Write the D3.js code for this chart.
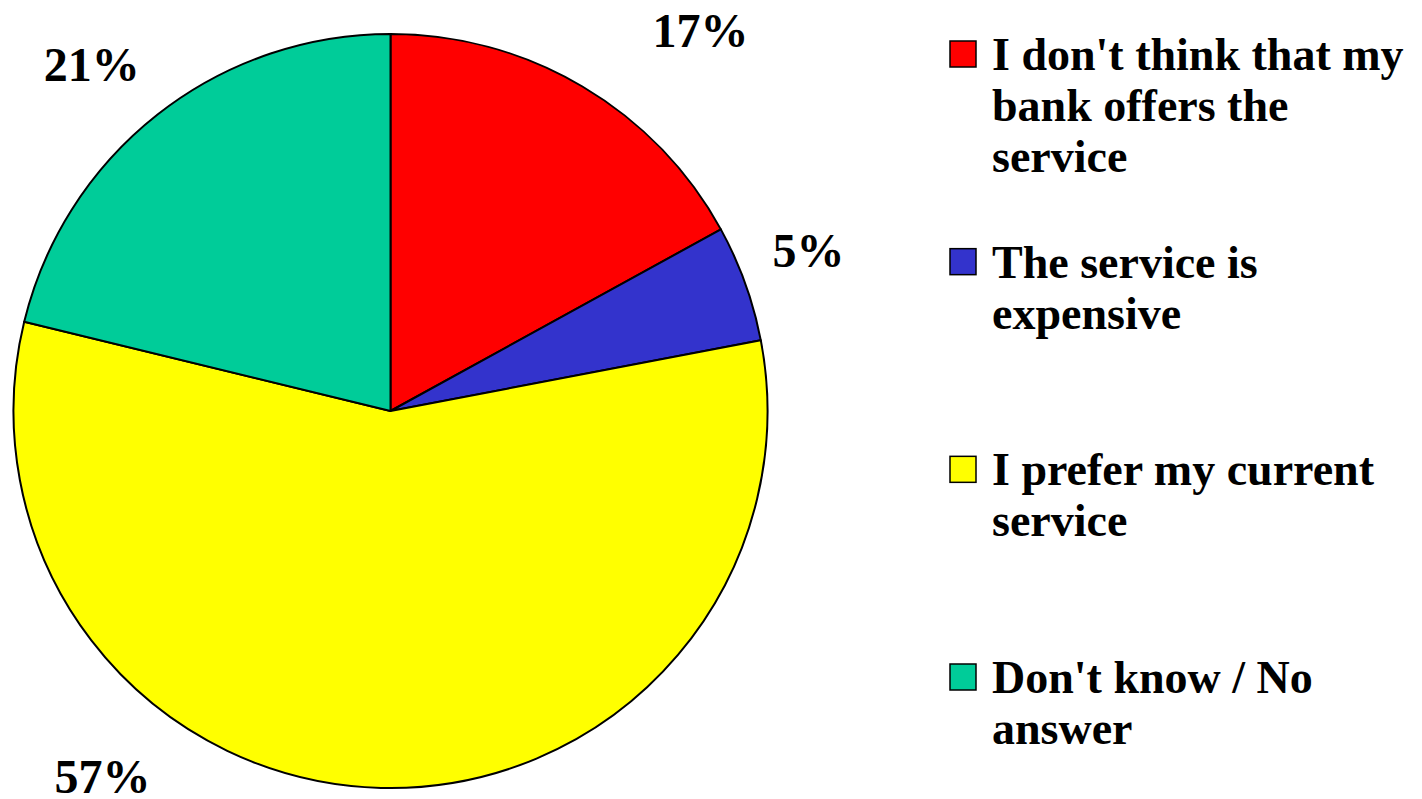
<!DOCTYPE html>
<html>
<head>
<meta charset="utf-8">
<script src="https://cdn.jsdelivr.net/npm/d3@7/dist/d3.min.js"></script>
<style>
  html, body { margin: 0; padding: 0; background: #ffffff; }
  svg { display: block; }
  text { font-family: "Liberation Serif", "Times New Roman", serif; font-weight: bold; fill: #000; }
</style>
</head>
<body>
<svg id="chart" width="1422" height="799"></svg>
<script>
// ---- data ----
const categories = [
  "I don't think that my bank offers the service",
  "The service is expensive",
  "I prefer my current service",
  "Don't know / No answer"
];
const values = [17, 5, 56.8, 21.2];
const legendLines = [
  ["I don't think that my", "bank offers the", "service"],
  ["The service is", "expensive"],
  ["I prefer my current", "service"],
  ["Don't know / No", "answer"]
];
const colors = ["#FF0000", "#3333CC", "#FFFF00", "#00CC99"];
// label nudges relative to the outer label arc (styling)
const labelNudge = [[86, -2], [4, -11], [-277, -74], [-27, 0]];

// ---- layout ----
const svg = d3.select("#chart");
const cx = 390.5, cy = 411, r = 377;

const pie = d3.pie().sort(null).value(d => d.value)
  .startAngle(0).endAngle(2 * Math.PI);
const data = categories.map((c, i) => ({ cat: c, value: values[i], i }));
const arcs = pie(data);

const arc = d3.arc().innerRadius(0).outerRadius(r);
const labelArc = d3.arc().innerRadius(440).outerRadius(440);
const color = d3.scaleOrdinal().domain(categories).range(colors);

const g = svg.append("g").attr("transform", `translate(${cx},${cy})`);
g.selectAll("path.slice").data(arcs).join("path")
  .attr("class", "slice")
  .attr("d", arc)
  .attr("fill", d => color(d.data.cat))
  .attr("stroke", "#000")
  .attr("stroke-width", 2)
  .attr("stroke-linejoin", "round");

const total = d3.sum(values);
const fmt = v => d3.format(".0f")(v / total * 100) + "%";
g.selectAll("text.lbl").data(arcs).join("text")
  .attr("class", "lbl")
  .attr("x", d => labelArc.centroid(d)[0] + labelNudge[d.data.i][0])
  .attr("y", d => labelArc.centroid(d)[1] + labelNudge[d.data.i][1])
  .attr("dy", "0.34em")
  .attr("text-anchor", "middle")
  .style("font-size", "48px")
  .text(d => fmt(d.data.value));

// ---- legend ----
const ly = d3.scalePoint().domain(categories).range([70, 693]);
const leg = svg.append("g");
const items = leg.selectAll("g.item").data(data).join("g")
  .attr("class", "item")
  .attr("transform", d => `translate(0,${ly(d.cat)})`);
items.append("rect")
  .attr("x", 950).attr("y", -29)
  .attr("width", 26).attr("height", 26)
  .attr("fill", d => color(d.cat))
  .attr("stroke", "#000").attr("stroke-width", 1.5);
items.append("text")
  .attr("x", 992).attr("y", 0)
  .style("font-size", "46px")
  .selectAll("tspan").data(d => legendLines[d.i]).join("tspan")
  .attr("x", 992)
  .attr("y", (d, k) => k * 51)
  .text(d => d);
</script>
</body>
</html>
